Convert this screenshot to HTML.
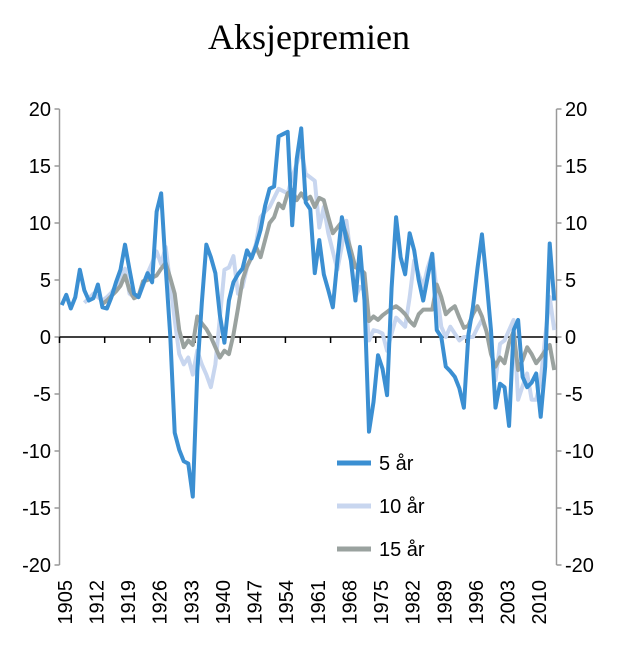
<!DOCTYPE html>
<html><head><meta charset="utf-8"><style>
html,body{margin:0;padding:0;background:#fff;}
svg{display:block;font-family:"Liberation Sans",sans-serif;}
</style></head><body>
<svg id="chart" width="620" height="652" viewBox="0 0 620 652" xmlns="http://www.w3.org/2000/svg">
<text x="309" y="49" text-anchor="middle" font-family="Liberation Serif, serif" font-size="36">Aksjepremien</text>
<g id="axes"></g>
<g id="series"></g>
<g id="legend"></g>
</svg>
<script>
const startYear = 1905;
const xTickLabels = ["1905","1912","1919","1926","1933","1940","1947","1954","1961","1968","1975","1982","1989","1996","2003","2010"];
const yTicks = [20,15,10,5,0,-5,-10,-15,-20];
const seriesNames = ["5 år","10 år","15 år"];
const s5 = [2.8,3.7,2.5,3.5,5.9,4.1,3.2,3.4,4.6,2.6,2.5,3.5,4.8,5.9,8.1,5.9,3.8,3.5,4.6,5.6,4.8,11.0,12.6,6.1,0.2,-8.4,-9.9,-10.9,-11.1,-14.0,-3,3.0,8.1,7.0,5.6,1.9,-0.5,3.2,4.8,5.5,6.0,7.6,6.9,8.0,9.4,11.5,13.0,13.2,17.6,17.8,18.0,9.8,15.6,18.3,11.8,11.2,5.6,8.5,5.5,4.1,2.6,6.7,10.5,8.5,6.7,3.2,7.9,3.2,-8.3,-5.7,-1.6,-2.8,-5.1,4.3,10.5,7.0,5.5,9.1,7.6,5.0,3.2,5.3,7.3,0.6,0.0,-2.6,-3.0,-3.5,-4.5,-6.2,0.2,2.6,6.0,9.0,5.0,0.6,-6.2,-4.1,-4.4,-7.8,0.6,1.5,-3.5,-4.4,-4.0,-3.2,-7.0,-2.6,8.2,3.2];
const s10 = [null,null,null,null,null,3.0,3.4,3.8,3.5,3.2,3.5,3.9,4.5,5.0,6.0,3.8,3.5,3.5,4.5,5.6,6.5,7.5,6.4,7.9,4.7,1.5,-1.5,-2.4,-1.8,-3.3,-1.2,-2.4,-3.3,-4.4,-2.4,1.7,5.9,6.1,7.1,3.8,4.4,6.1,7.0,8.2,10.5,11.0,11.4,12.2,13.0,12.8,12.6,14.0,15.2,16.4,14.3,14.0,13.7,9.6,11.4,9.1,7.5,5.9,8.0,10.2,7.0,3.5,4.4,4.1,-0.3,0.6,0.5,0.3,-1.2,0.3,1.7,1.3,0.9,3.5,6.7,5.5,4.4,6.1,7.3,4.0,0.9,0,0.9,0.3,-0.3,0,0,0,0.8,1.5,0.5,-0.6,-3.8,-0.6,-0.3,0.6,1.5,-5.5,-4.3,-3.2,-5.5,-5.5,-3.8,0,3.5,0.6];
const s15 = [null,null,null,null,null,null,null,null,null,2.9,3.2,3.6,4.0,4.5,5.4,4.1,3.4,3.6,4.9,5.0,5.2,5.4,6.0,6.5,5.2,3.8,0.6,-0.9,-0.3,-0.7,1.8,1.2,0.7,0,-0.9,-1.8,-1.2,-1.5,0.2,2.5,5.0,6.2,7.0,7.9,7.0,8.5,10.0,10.5,11.7,11.3,12.6,12.9,12.0,12.6,12.0,12.3,11.4,12.2,12.0,10.5,9.1,9.6,10.1,9.0,7.6,6.1,6.0,5.6,1.4,1.8,1.5,1.9,2.2,2.5,2.7,2.4,2.0,1.4,1.0,2.0,2.4,2.4,2.4,4.6,3.5,2.0,2.4,2.7,1.7,0.8,1.0,2.0,2.7,1.8,0.5,-1.5,-2.6,-1.8,-2.3,-0.5,0.5,-2.9,-2.0,-0.9,-1.5,-2.3,-1.8,-1.2,-0.7,-2.9];
const colors = ["#3b8fd2","#c8d6ef","#9aa29f"];

const NS = "http://www.w3.org/2000/svg";
const L = 59.5, R = 556.5, T = 109, B = 565, yMin = -20, yMax = 20;
const n = s5.length;
const bw = (R - L) / n;
function xPos(i){ return L + bw * (i + 0.5); }
function yPos(v){ return T + (yMax - v) / (yMax - yMin) * (B - T); }
function mk(tag, attrs, parent){ const e = document.createElementNS(NS, tag); for (const k in attrs) e.setAttribute(k, attrs[k]); parent.appendChild(e); return e; }

const axes = document.getElementById('axes');
const la = mk('line', {x1:L,y1:T,x2:L,y2:B,stroke:'#999','stroke-width':1.5}, axes);


const ra = mk('line', {x1:R,y1:T,x2:R,y2:B,stroke:'#999','stroke-width':1.5}, axes);


yTicks.forEach(v => {
  const y = yPos(v);
  mk('line', {x1:L-5,y1:y,x2:L,y2:y,stroke:'#999','stroke-width':1.5}, axes);
  mk('line', {x1:R,y1:y,x2:R+5,y2:y,stroke:'#999','stroke-width':1.5}, axes);
  const t1 = mk('text', {x:51,y:y+7,'text-anchor':'end','font-size':20,fill:'#000'}, axes);
  t1.textContent = v;
  
  
  const t2 = mk('text', {x:565,y:y+7,'text-anchor':'start','font-size':20,fill:'#000'}, axes);
  t2.textContent = v;
  
  
});
const zl = mk('line', {x1:L,y1:yPos(0),x2:R,y2:yPos(0),stroke:'#000','stroke-width':1.5}, axes);


for (let i = 0; i <= n; i += 10) {
  const x = L + bw * i;
  mk('line', {x1:x,y1:yPos(0),x2:x,y2:yPos(0)+6,stroke:'#000','stroke-width':1.5}, axes);
}
xTickLabels.forEach(lbl => {
  const i = parseInt(lbl) - startYear;
  const bx = xPos(i) + 10;
  const t = mk('text', {x:0,y:0,'text-anchor':'end','font-size':20,fill:'#000',transform:`translate(${bx},580) rotate(-90)`}, axes);
  t.textContent = lbl;
  
  
});

const sg = document.getElementById('series');
[s10, s15, s5].forEach((arr) => {
  const idx = arr === s5 ? 0 : (arr === s10 ? 1 : 2);
  let d = '';
  arr.forEach((v, i) => { if (v === null) return; d += (d ? 'L' : 'M') + xPos(i).toFixed(2) + ',' + yPos(v).toFixed(2); });
  const p = mk('path', {d:d,fill:'none',stroke:colors[idx],'stroke-width':4,'stroke-linejoin':'round'}, sg);
  
  
});

const lg = document.getElementById('legend');
seriesNames.forEach((nm, k) => {
  const y = 463 + k * 43;
  const l = mk('line', {x1:337,y1:y,x2:371,y2:y,stroke:colors[k],'stroke-width':5}, lg);
  
  
  const t = mk('text', {x:379,y:y+7,'font-size':20,fill:'#000'}, lg);
  t.textContent = nm;
  
  
});
</script>
</body></html>
